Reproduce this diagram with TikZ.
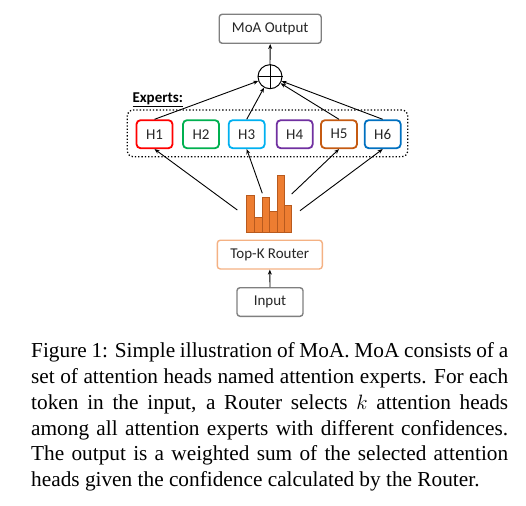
\documentclass[tikz,border=0pt]{standalone}
\usepackage{fontspec}
\setmainfont{Liberation Serif}
\newfontfamily\diagfont{Carlito}
\usetikzlibrary{arrows.meta}
\definecolor{boxgray}{HTML}{7F7F7F}
\definecolor{hred}{HTML}{FF0000}
\definecolor{hgreen}{HTML}{00B050}
\definecolor{hcyan}{HTML}{00B0F0}
\definecolor{hpurple}{HTML}{7030A0}
\definecolor{horange}{HTML}{C55A11}
\definecolor{hblue}{HTML}{0070C0}
\definecolor{barfill}{HTML}{ED7D31}
\definecolor{barline}{HTML}{B85A1E}
\definecolor{routerline}{HTML}{F4B183}
\definecolor{txt}{HTML}{262626}
\tikzset{
  graybox/.style={draw=boxgray, line width=1.4pt, rounded corners=3pt, inner sep=0pt, font=\diagfont\fontsize{15}{18}\selectfont, text=txt},
  headbox/.style={draw=#1, line width=1.8pt, rounded corners=4pt, minimum width=36pt, minimum height=28pt, inner sep=0pt, font=\diagfont\fontsize{15}{18}\selectfont, text=txt},
  conn/.style={-{Stealth[length=5pt,width=4pt]}, line width=0.9pt, black},
  bar/.style={fill=barfill, draw=barline, line width=0.8pt}
}
\begin{document}
\begin{tikzpicture}[x=1pt,y=-1pt]
\useasboundingbox (0,0) rectangle (526,505);
% output
\node[graybox, minimum width=102pt, minimum height=29pt] (out) at (270.2,28.8) {MoA Output};
\node[circle, draw=black, line width=1pt, minimum size=24pt, inner sep=0pt] (plus) at (270,76.7) {};
\draw[line width=1pt] (plus.north) -- (plus.south) (plus.west) -- (plus.east);
\draw[conn] (plus.north) -- (out.south);
% experts
\node[draw=black, dotted, line width=1.3pt, rounded corners=6pt, minimum width=280.4pt, minimum height=46.7pt, inner sep=0pt] (grp) at (267.5,133.35) {};
\node[font=\diagfont\bfseries\fontsize{15}{18}\selectfont, inner sep=0pt, anchor=base west] (lbl) at (132.3,102.5) {\underline{Experts:}};
\node[headbox=hred] (h1) at (154.5,134.2) {H1};
\node[headbox=hgreen] (h2) at (201,134.2) {H2};
\node[headbox=hcyan] (h3) at (246.7,134.2) {H3};
\node[headbox=hpurple] (h4) at (294.7,134.2) {H4};
\node[headbox=horange] (h5) at (339,134.2) {H5};
\node[headbox=hblue] (h6) at (382.7,134.2) {H6};
\draw[conn] (h1.north) -- (plus);
\draw[conn] (h3.north) -- (plus);
\draw[conn] (h5.north) -- (plus);
\draw[conn] (h6.north) -- (plus);
% bars
\draw[bar] (246,232.3) rectangle (254.3,195.7);
\draw[bar] (254.3,232.3) rectangle (262.3,217.3);
\draw[bar] (262.3,232.3) rectangle (269.7,197.3);
\draw[bar] (269.7,232.3) rectangle (277.3,211.7);
\draw[bar] (277.3,232.3) rectangle (284.7,175.7);
\draw[bar] (284.7,232.3) rectangle (291.7,205);
\coordinate (c1) at (237.3,210);
\coordinate (c3) at (262.3,193.3);
\coordinate (c5) at (291.7,194);
\coordinate (c6) at (300,210.7);
\draw[conn] (c1) -- (h1.south);
\draw[conn] (c3) -- (h3.south);
\draw[conn] (c5) -- (h5.south);
\draw[conn] (c6) -- (h6.south);
% router and input
\node[graybox, draw=routerline, minimum width=105pt, minimum height=28.7pt] (router) at (269.8,254.6) {Top-K Router};
\node[graybox, minimum width=66pt, minimum height=28.6pt] (inp) at (270,302) {Input};
\draw[conn] (inp.north) -- (router.south);
% caption
\node[inner sep=0pt, anchor=base west] (cap) at (31,357.3) {\parbox[t]{477pt}{\fontsize{21.3}{25.9}\selectfont\emergencystretch=3em
Figure 1: Simple illustration of MoA. MoA consists of a\linebreak
set of attention heads named attention experts. For each\linebreak
token in the input, a Router selects $k$ attention heads\linebreak
among all attention experts with different confidences.\linebreak
The output is a weighted sum of the selected attention\linebreak
heads given the confidence calculated by the Router.}};
\end{tikzpicture}
\end{document}
